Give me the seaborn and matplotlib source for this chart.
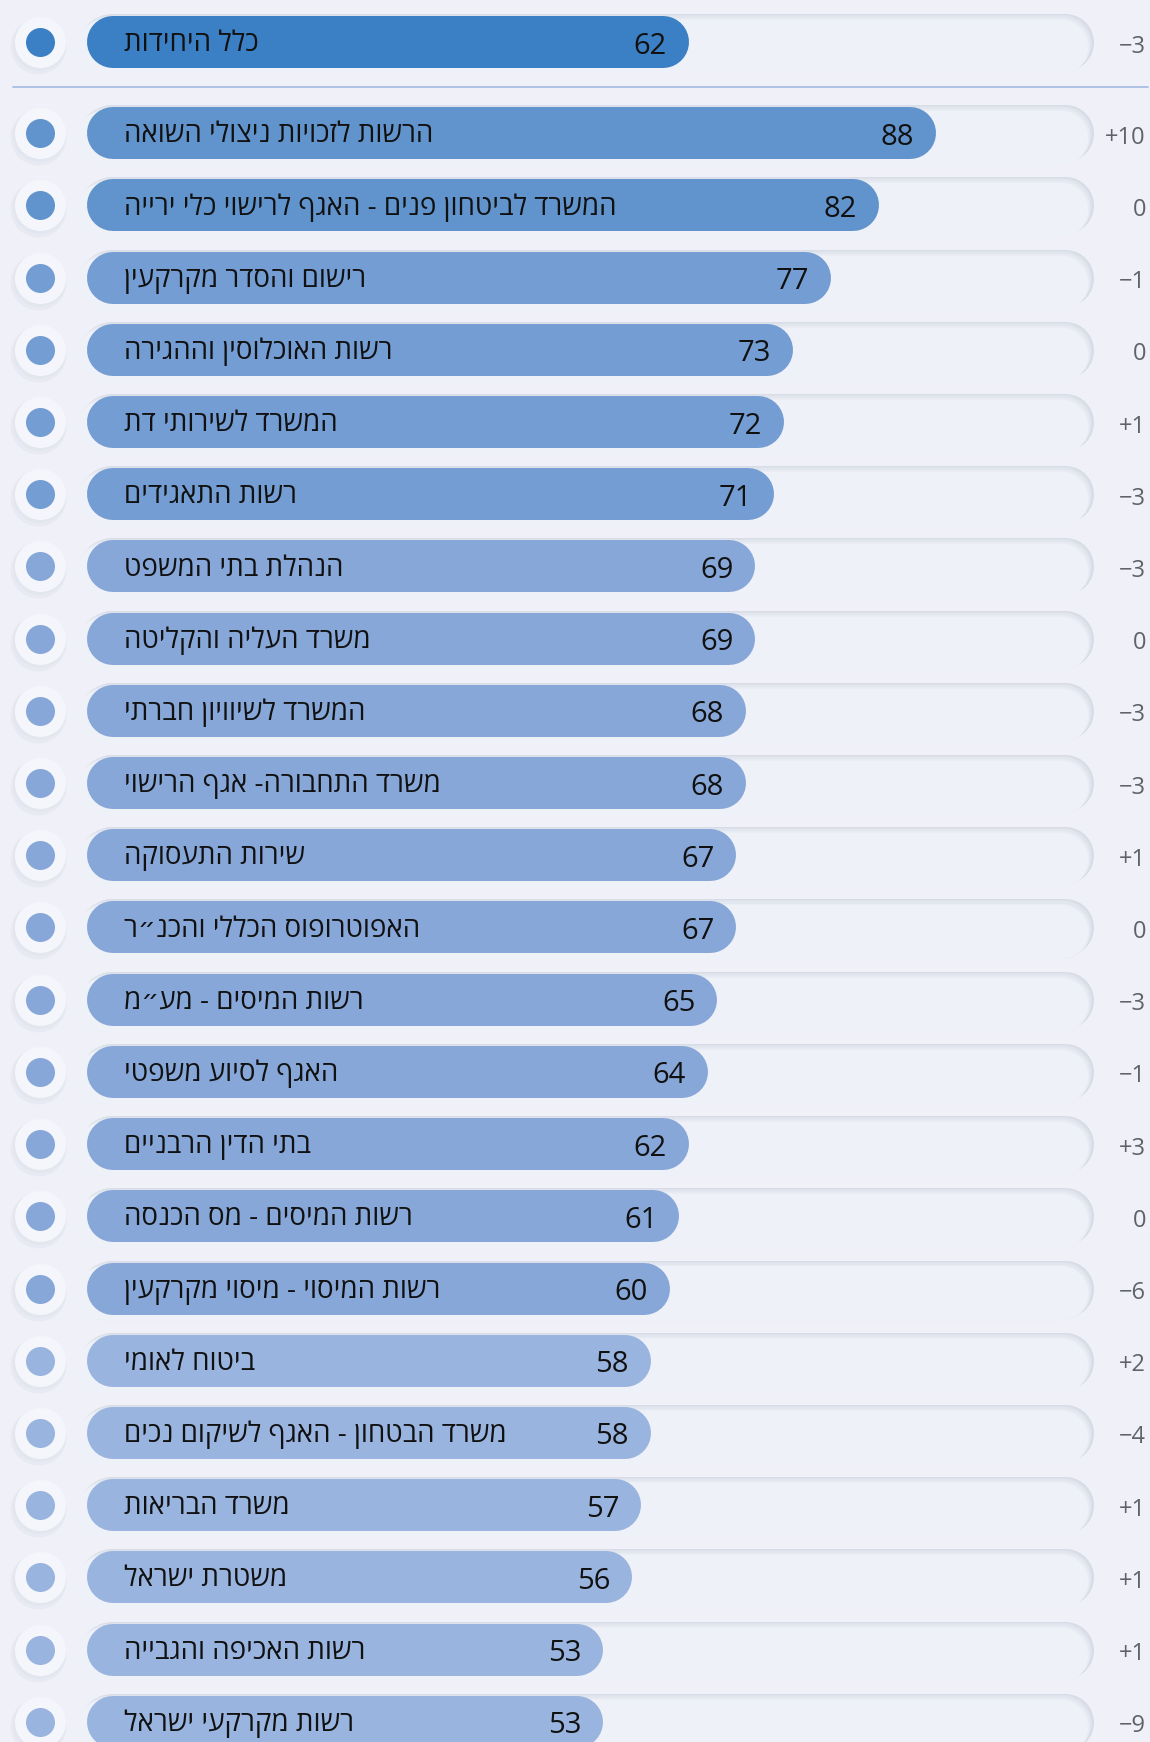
import matplotlib
matplotlib.use("Agg")
import matplotlib.pyplot as plt
import seaborn as sns
import pandas as pd

# ---------------- data ----------------
total_label = "כלל היחידות"
total_score = 62
total_change = "−3"

units = [
    "הרשות לזכויות ניצולי השואה",
    "המשרד לביטחון פנים - האגף לרישוי כלי ירייה",
    "רישום והסדר מקרקעין",
    "רשות האוכלוסין וההגירה",
    "המשרד לשירותי דת",
    "רשות התאגידים",
    "הנהלת בתי המשפט",
    "משרד העליה והקליטה",
    "המשרד לשיוויון חברתי",
    "משרד התחבורה- אגף הרישוי",
    "שירות התעסוקה",
    "האפוטרופוס הכללי והכנ״ר",
    "רשות המיסים - מע״מ",
    "האגף לסיוע משפטי",
    "בתי הדין הרבניים",
    "רשות המיסים - מס הכנסה",
    "רשות המיסוי - מיסוי מקרקעין",
    "ביטוח לאומי",
    "משרד הבטחון - האגף לשיקום נכים",
    "משרד הבריאות",
    "משטרת ישראל",
    "רשות האכיפה והגבייה",
    "רשות מקרקעי ישראל",
]
scores = [88, 82, 77, 73, 72, 71, 69, 69, 68, 68, 67, 67, 65, 64, 62, 61, 60, 58, 58, 57, 56, 53, 53]
changes = ["+10", "0", "−1", "0", "+1", "−3", "−3", "0", "−3", "−3", "+1", "0", "−3",
           "−1", "+3", "0", "−6", "+2", "−4", "+1", "+1", "+1", "−9"]

# ---------------- style ----------------
sns.set_theme(style="white")
plt.rcParams["font.family"] = ["Open Sans", "DejaVu Sans"]

BG = "#f0f1f8"
TOTAL_COLOR = "#3b7fc4"
DPI = 100
W, H = 1150, 1742
ROW = 72.2            # px per row
PX0 = 100.5           # pixel of value 0
PXU = 9.49            # px per value unit
XMIN, XMAX = -PX0 / PXU, (W - PX0) / PXU
UX = 1.0 / PXU        # data units per px (x)
UY = 1.0 / ROW        # data units per px (y)


def bin_color(v):
    if v >= 80:
        return "#6194cc"
    if v >= 70:
        return "#739dd3"
    if v >= 60:
        return "#87a7d9"
    return "#99b4df"


def px2x(px):
    return (px - PX0) / PXU


def pt(px):
    return px * 72.0 / DPI


def rtl(s):
    return s[::-1]


fig = plt.figure(figsize=(W / DPI, H / DPI), dpi=DPI, facecolor=BG)


def make_ax(top_px, nrows):
    h = nrows * ROW
    ax = fig.add_axes([0, (H - top_px - h) / H, 1, h / H])
    ax.set_facecolor("none")
    return ax


def pill(ax, x0, x1, yc, h_px, color, dx_px=0.0, dy_px=0.0, z=1, alpha=1.0):
    r = h_px / 2.0 * UX
    ax.plot([x0 + r + dx_px * UX, x1 - r + dx_px * UX], [yc + dy_px * UY] * 2,
            lw=pt(h_px), color=color, solid_capstyle="round", zorder=z,
            alpha=alpha, clip_on=False)


TRACK_L, TRACK_R = px2x(82), px2x(1093)
BAR_L = px2x(87)
DOT_X = px2x(39.5)


def decorate(ax, yc, value, label, change, color):
    # neumorphic track
    pill(ax, TRACK_L, TRACK_R, yc, 60, "#f7f8fc", dx_px=-2, dy_px=2, z=1)
    pill(ax, TRACK_L, TRACK_R, yc, 57, "#d6dbe6", z=2)
    shades = ["#dce1ea", "#e2e6ee", "#e7eaf2", "#ebeef5", "#eff1f8"]
    for k, c in enumerate(shades, start=1):
        pill(ax, TRACK_L, TRACK_R, yc, 57 - k * 0.6, c, dx_px=-k * 1.1, dy_px=k * 1.0, z=2 + k)
    # value pill
    pill(ax, BAR_L, value, yc, 52, color, z=10)
    # bullet with halo
    ax.scatter([DOT_X - 2 * UX], [yc + 4 * UY], s=pt(56) ** 2, color="#d9dde8", alpha=0.35,
               linewidths=0, zorder=11, clip_on=False)
    ax.scatter([DOT_X - 1 * UX], [yc + 2 * UY], s=pt(53) ** 2, color="#dfe3ec", alpha=0.5,
               linewidths=0, zorder=11, clip_on=False)
    ax.scatter([DOT_X], [yc], s=pt(51) ** 2, color="#f5f6fb", linewidths=0, zorder=12, clip_on=False)
    ax.scatter([DOT_X], [yc], s=pt(29) ** 2, color=color, linewidths=0, zorder=13, clip_on=False)
    # texts
    ax.text(px2x(124), yc + 2 * UY, rtl(label), ha="left", va="center", fontsize=20,
            color="#111111", zorder=14)
    ax.text(value - 22 * UX, yc + 4 * UY, f"{value:.0f}", ha="right", va="center",
            fontsize=21, color="#111111", zorder=14)
    ax.text(px2x(1146), yc + 4.5 * UY, change, ha="right", va="center", fontsize=17,
            color="#5f6368", zorder=14)


def draw_block(ax, labels, values, chg, colors):
    df = pd.DataFrame({"unit": labels, "score": values})
    sns.barplot(data=df, x="score", y="unit", hue="unit", palette=colors, legend=False,
                orient="h", width=0.72, saturation=1, ax=ax)
    ax.set_xlim(XMIN, XMAX)
    ax.set_ylim(len(labels) - 0.5, -0.5)
    ax.axis("off")
    bars = [p for p in ax.patches]
    for p in bars:
        p.set_visible(False)
    for p in bars:
        yc = p.get_y() + p.get_height() / 2.0
        idx = int(round(yc))
        decorate(ax, yc, p.get_width(), labels[idx], chg[idx], colors[idx])


# ---- total row ----
ax_top = make_ax(42 - ROW / 2, 1)
draw_block(ax_top, [total_label], [total_score], [total_change], [TOTAL_COLOR])

# ---- list ----
ax_list = make_ax(133.3 - ROW / 2, len(units))
draw_block(ax_list, units, scores, changes, [bin_color(v) for v in scores])

# separator line between the total and the list
sep_y = -0.5 - (133.3 - ROW / 2 - 87) * UY
ax_list.plot([px2x(13), px2x(1148)], [sep_y, sep_y], color="#a9bfe3", lw=1.3,
             clip_on=False, zorder=1)

fig.savefig("out.png", dpi=DPI, facecolor=BG)
